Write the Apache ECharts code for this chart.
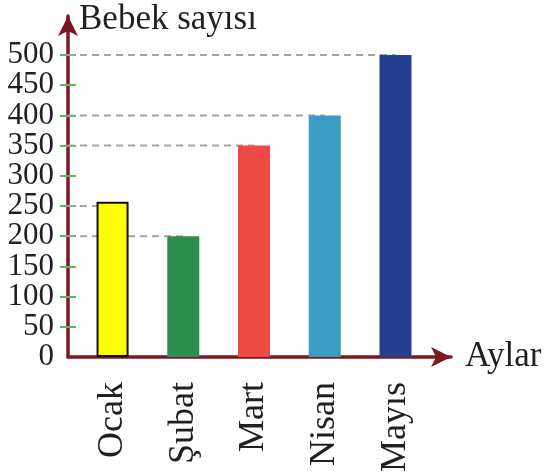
<!DOCTYPE html>
<html>
<head>
<meta charset="utf-8">
<script src="https://cdn.jsdelivr.net/npm/echarts@6/dist/echarts.min.js"></script>
<style>
html,body{margin:0;padding:0;background:#fff;}
#chart{width:546px;height:476px;}
</style>
</head>
<body>
<div id="chart"></div>
<script>
// ---- data ----
const months = ['Ocak', 'Şubat', 'Mart', 'Nisan', 'Mayıs'];
const monthNo = [1, 2, 3, 4, 5];
const babies = [257, 200, 350, 400, 500];
const guideLevels = [250, 200, 350, 400, 500];
const yTicks = [0, 50, 100, 150, 200, 250, 300, 350, 400, 450, 500];
const barColors = ['#ffff00', '#2b8f4f', '#ef4b45', '#3a9cc0', '#243f8e'];

// ---- layout / style ----
const X_MIN = 0.37, X_MAX = 5.785;
const Y_MAX = 564.6;
const AXIS_COLOR = '#7a1a1f';
const TICK_COLOR = '#5cb85c';
const FONT = 'Liberation Serif';
const TEXT = '#1f1f24';
const tickMarks = yTicks.filter(v => v > 0);
// labels split over two overlaid axes so the dense labels are never auto-hidden
const labelsA = yTicks.filter((v, i) => i % 2 === 0);
const labelsB = yTicks.filter((v, i) => i % 2 === 1);

const chart = echarts.init(document.getElementById('chart'), null, {renderer: 'canvas'});

const barData = months.map((m, i) => ({
  value: [monthNo[i], babies[i]],
  itemStyle: i === 0
    ? {color: barColors[i], borderColor: '#111', borderWidth: 2}
    : {color: barColors[i]}
}));

const guideSeries = guideLevels.map((g, i) => ({
  type: 'line',
  silent: true,
  symbol: 'none',
  z: 1,
  data: [[X_MIN, g], [monthNo[i], g]],
  lineStyle: {color: '#a3a3a3', width: 2, type: [7, 5]}
}));

const yLabelStyle = {showMinLabel: true, showMaxLabel: true, hideOverlap: false,
  margin: 14, fontFamily: FONT, fontSize: 31, color: TEXT};

chart.setOption({
  animation: false,
  title: {
    text: 'Bebek sayısı',
    left: 79, top: 2, padding: 0,
    textStyle: {fontFamily: FONT, fontSize: 35, fontWeight: 'normal', color: TEXT}
  },
  grid: {left: 68, top: 16, right: 546 - 451, bottom: 476 - 357, containLabel: false},
  xAxis: {
    type: 'value', min: X_MIN, max: X_MAX,
    name: 'Aylar', nameLocation: 'end', nameGap: 14,
    nameTextStyle: {fontFamily: FONT, fontSize: 35, color: TEXT, verticalAlign: 'middle', align: 'left'},
    axisLine: {show: true, symbol: ['none', 'arrow'], symbolSize: [15, 20],
      lineStyle: {color: AXIS_COLOR, width: 3.5}},
    axisTick: {show: false},
    splitLine: {show: false},
    axisLabel: {
      customValues: monthNo,
      formatter: v => months[monthNo.indexOf(v)],
      rotate: 90, margin: 25,
      fontFamily: FONT, fontSize: 36, color: TEXT
    }
  },
  yAxis: [{
    type: 'value', min: 0, max: Y_MAX,
    axisLine: {show: true, symbol: ['none', 'arrow'], symbolSize: [15, 20],
      lineStyle: {color: AXIS_COLOR, width: 3.5}},
    axisTick: {show: true, customValues: tickMarks, length: 8,
      lineStyle: {color: TICK_COLOR, width: 2}},
    splitLine: {show: false},
    axisLabel: Object.assign({customValues: labelsA}, yLabelStyle)
  }, {
    type: 'value', min: 0, max: Y_MAX, position: 'left',
    axisLine: {show: false},
    axisTick: {show: true, inside: true, customValues: tickMarks, length: 8,
      lineStyle: {color: TICK_COLOR, width: 2}},
    splitLine: {show: false},
    axisLabel: Object.assign({customValues: labelsB}, yLabelStyle)
  }],
  series: [
    ...guideSeries,
    {
      type: 'bar',
      barWidth: 32,
      z: 3,
      data: barData
    }
  ]
});
</script>
</body>
</html>
